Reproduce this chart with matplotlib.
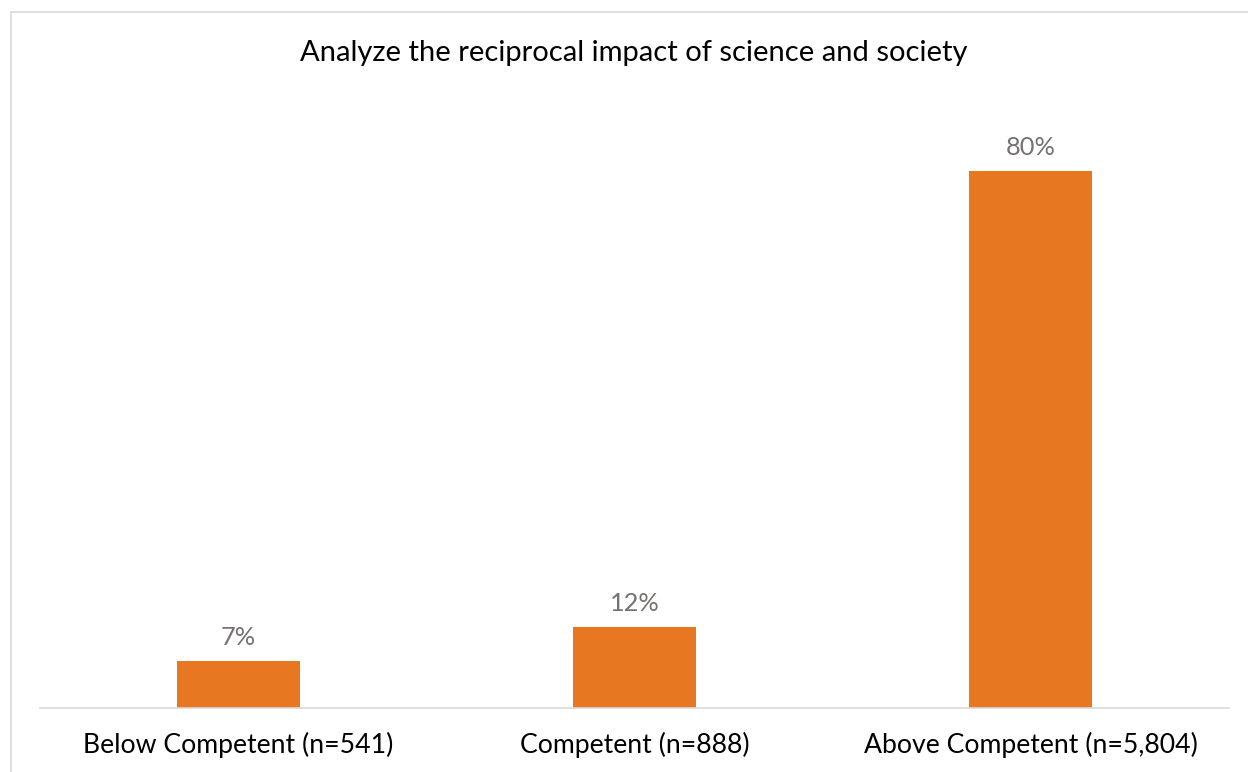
import matplotlib.pyplot as plt
from matplotlib.patches import Rectangle

categories = ['Below Competent (n=541)', 'Competent (n=888)', 'Above Competent (n=5,804)']
values = [7, 12, 80]
value_labels = ['7%', '12%', '80%']
title = 'Analyze the reciprocal impact of science and society'

plt.rcParams['font.family'] = ['Lato', 'DejaVu Sans']

W, H = 1248, 772
fig = plt.figure(figsize=(W / 100, H / 100), dpi=100)

# chart frame (right/bottom edges fall outside the picture)
fig.patches.append(Rectangle((11 / W, -0.1), 1.2, 1 - 12 / H + 0.1,
                             transform=fig.transFigure, fill=False,
                             edgecolor='#D9D9D9', linewidth=1.2))

# plot area: x 40..1229, baseline at y=708
top_px, base_px = 108, 708
ax = fig.add_axes([40 / W, 1 - base_px / H, (1229 - 40) / W, (base_px - top_px) / H])
ymax = (base_px - top_px) / 6.71
ax.set_ylim(0, ymax)
ax.set_xlim(-0.5, len(categories) - 0.5)

x = range(len(categories))
bars = ax.bar(x, values, width=0.31, color='#E87722', zorder=2)
for b, lab in zip(bars, value_labels):
    ax.annotate(lab, (b.get_x() + b.get_width() / 2, b.get_height()),
                xytext=(0, 9), textcoords='offset points',
                ha='center', va='bottom', fontsize=18.3, color='#767171')

ax.set_xticks(list(x))
ax.set_xticklabels(categories, fontsize=19.2, color='#000000')
ax.tick_params(axis='x', length=0, pad=17)
ax.set_yticks([])
for s in ['top', 'right', 'left']:
    ax.spines[s].set_visible(False)
ax.spines['bottom'].set_color('#D9D9D9')
ax.spines['bottom'].set_linewidth(1.2)

fig.text(634 / W, 1 - 53 / H, title, ha='center', va='center', fontsize=21, color='#000000')

fig.savefig('out.png', dpi=100)
